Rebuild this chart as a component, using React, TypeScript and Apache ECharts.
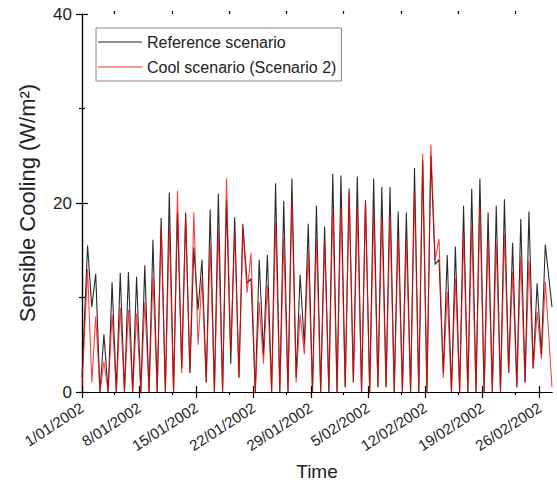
import React, { useEffect, useRef } from "react";
import * as echarts from "echarts";

// Daily values (day 0 = 1/01/2002)
const refPeak = [15.5, 12.5, 6.1, 11.6, 12.6, 12.7, 12.2, 13.4, 16.1, 18.4, 21.1, 19.0, 19.0, 15.3, 14.0, 19.3, 21.0, 20.3, 18.5, 17.8, 12.0, 14.0, 14.5, 22.1, 20.2, 22.6, 12.4, 17.8, 19.7, 17.5, 23.1, 22.9, 21.5, 22.8, 20.3, 22.6, 21.7, 21.7, 19.1, 19.0, 23.7, 24.5, 25.0, 14.0, 14.5, 15.4, 19.7, 21.5, 22.6, 19.0, 19.7, 20.4, 15.8, 18.3, 19.1, 11.5, 15.6];
const coolPeak = [13.0, 8.0, 3.2, 8.2, 8.9, 8.7, 8.3, 9.5, 12.2, 17.4, 17.4, 21.3, 18.5, 19.0, 12.0, 15.5, 17.2, 22.6, 17.0, 17.4, 14.7, 9.5, 11.3, 18.0, 16.2, 20.4, 8.2, 14.8, 16.2, 16.0, 19.4, 19.4, 21.1, 19.4, 20.1, 19.0, 18.5, 18.6, 16.4, 16.0, 21.3, 25.2, 26.2, 16.2, 10.6, 12.0, 16.7, 17.6, 19.7, 16.2, 15.8, 16.7, 12.7, 14.3, 13.9, 8.5, 11.7];
const refTrough = [1.5, 9.0, 0, 0, 0, 0, 0, 0, 0, 0, 0, 0, 2.5, 2.0, 8.7, 1.0, 0, 0, 3.0, 1.5, 11.5, 0, 4.0, 0, 0, 0, 1.5, 5.0, 0, 0, 0, 0, 0.5, 1.0, 0, 0, 0.5, 0.5, 0, 0, 0, 0, 0, 13.5, 2.0, 0, 0, 0, 0, 0, 0, 0, 2.0, 0.5, 1.0, 2.5, 4.0];
const coolTrough = [0.5, 1.0, 0, 0, 0, 0, 0, 0, 0, 0, 0, 0, 2.0, 2.0, 5.0, 1.0, 0, 0, 4.3, 1.5, 10.5, 0, 3.0, 0, 0, 0, 1.0, 4.0, 0, 0, 0, 0, 0.5, 1.0, 0, 0, 0.5, 0.5, 0, 0, 0, 0, 0, 14.0, 1.5, 0, 0, 0, 0, 0, 0, 0, 2.0, 0.5, 1.0, 2.5, 3.5];
const refEnd = 9.0;
const coolEnd = 0.5;
const lastDay = 57.5;

// Typical fraction of the day at which the minimum / maximum occur
const troughHour = 0.2;
const peakHour = 0.68;

const xTickDays = [0, 7, 14, 21, 28, 35, 42, 49, 56];
const xTickLabels = ["1/01/2002", "8/01/2002", "15/01/2002", "22/01/2002", "29/01/2002", "5/02/2002", "12/02/2002", "19/02/2002", "26/02/2002"];
const xMinorDays = [4, 11, 18, 25, 32, 39, 46, 53];

function buildSeries(tr: number[], pk: number[], end: number) {
  const out: number[][] = [];
  for (let i = 0; i < pk.length; i++) {
    out.push([i === 0 ? 0 : i + troughHour, tr[i]]);
    out.push([i + peakHour, pk[i]]);
  }
  out.push([lastDay, end]);
  return out;
}

const FONT = "'Liberation Sans', Arial, sans-serif";

export default function App() {
  const ref = useRef<HTMLDivElement>(null);
  useEffect(() => {
    document.body.style.margin = "0";
    if (!ref.current) return;
    const chart = echarts.init(ref.current, undefined, { renderer: "svg" });
    const axisLine = { show: true, lineStyle: { color: "#000", width: 1.2 } };
    const labelMap: Record<number, string> = {};
    xTickDays.forEach((d, i) => (labelMap[d] = xTickLabels[i]));
    const baseX = { type: "value", min: 0, max: lastDay, splitLine: { show: false } };
    chart.setOption({
      animation: false,
      textStyle: { fontFamily: FONT },
      grid: { left: 82, right: 5, top: 14, bottom: 92, containLabel: false },
      legend: {
        orient: "vertical",
        left: 96,
        top: 28,
        icon: "rect",
        itemWidth: 44,
        itemHeight: 1,
        itemGap: 9,
        padding: [6, 5, 6, 2],
        borderColor: "#888",
        borderWidth: 1,
        textStyle: { fontSize: 16, color: "#222", fontFamily: FONT, lineHeight: 16 },
        data: ["Reference scenario", "Cool scenario (Scenario 2)"],
      },
      xAxis: [
        {
          ...baseX,
          position: "bottom",
          axisLine,
          axisTick: { show: true, length: 6, customValues: xTickDays, lineStyle: { color: "#000", width: 1.2 } },
          axisLabel: {
            show: true,
            customValues: xTickDays,
            rotate: 33,
            margin: 14,
            fontSize: 15,
            color: "#222",
            fontFamily: FONT,
            formatter: (v: number) => labelMap[v] ?? "",
          },
          name: "Time",
          nameLocation: "middle",
          nameGap: 70,
          nameTextStyle: { fontSize: 19, color: "#222", fontFamily: FONT },
        },
        {
          ...baseX,
          position: "top",
          axisLine,
          axisTick: { show: true, length: 6, customValues: xTickDays, lineStyle: { color: "#000", width: 1.2 } },
          axisLabel: { show: false },
        },
        {
          ...baseX,
          position: "bottom",
          axisLine: { show: false },
          axisTick: { show: true, length: 3, customValues: xMinorDays, lineStyle: { color: "#000", width: 1.2 } },
          axisLabel: { show: false },
        },
        {
          ...baseX,
          position: "top",
          axisLine: { show: false },
          axisTick: { show: true, length: 3, customValues: xMinorDays, lineStyle: { color: "#000", width: 1.2 } },
          axisLabel: { show: false },
        },
      ],
      yAxis: [
        {
          type: "value",
          min: 0,
          max: 40,
          interval: 20,
          position: "left",
          axisLine,
          axisTick: { show: true, length: 6, lineStyle: { color: "#000", width: 1.2 } },
          minorTick: { show: true, splitNumber: 2, length: 3, lineStyle: { color: "#000", width: 1.2 } },
          splitLine: { show: false },
          axisLabel: { fontSize: 17, color: "#222", margin: 10, fontFamily: FONT },
          name: "Sensible Cooling (W/m²)",
          nameLocation: "middle",
          nameGap: 44,
          nameTextStyle: { fontSize: 22, color: "#222", fontFamily: FONT },
        },
        {
          type: "value",
          min: 0,
          max: 40,
          interval: 20,
          position: "right",
          axisLine,
          axisTick: { show: true, length: 6, lineStyle: { color: "#000", width: 1.2 } },
          minorTick: { show: true, splitNumber: 2, length: 3, lineStyle: { color: "#000", width: 1.2 } },
          splitLine: { show: false },
          axisLabel: { show: false },
        },
      ],
      series: [
        {
          name: "Reference scenario",
          type: "line",
          xAxisIndex: 0,
          yAxisIndex: 0,
          symbol: "none",
          color: "#222",
          lineStyle: { color: "rgba(20,20,20,0.9)", width: 1.1 },
          data: buildSeries(refTrough, refPeak, refEnd),
        },
        {
          name: "Cool scenario (Scenario 2)",
          type: "line",
          xAxisIndex: 0,
          yAxisIndex: 0,
          symbol: "none",
          color: "#ff3030",
          lineStyle: { color: "rgba(255,0,0,0.75)", width: 1.1 },
          data: buildSeries(coolTrough, coolPeak, coolEnd),
        },
      ],
    });
    return () => chart.dispose();
  }, []);
  return <div ref={ref} style={{ width: 557, height: 486 }} />;
}
